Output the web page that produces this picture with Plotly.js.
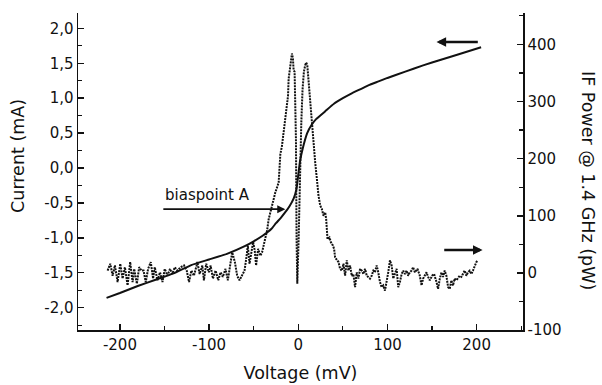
<!DOCTYPE html>
<html>
<head>
<meta charset="utf-8">
<script src="https://cdn.plot.ly/plotly-3.0.1.min.js"></script>
<style>html,body{margin:0;padding:0;background:#fff;}#chart{width:602px;height:385px;}</style>
</head>
<body>
<div id="chart"></div>
<script>
// I-V curve (left axis, mA)
var ivVoltage = [-215,-200,-180,-160,-140,-120,-100,-80,-60,-50,-40,-30,-25,-20,-15,-10,-5,-2,0,2,5,10,15,20,30,40,50,60,70,80,90,100,120,140,160,180,205];
var ivCurrent = [-1.86,-1.79,-1.69,-1.60,-1.51,-1.39,-1.31,-1.23,-1.12,-1.05,-0.97,-0.87,-0.79,-0.72,-0.64,-0.55,-0.43,-0.30,-0.10,0.10,0.28,0.50,0.62,0.70,0.81,0.92,1.00,1.07,1.13,1.19,1.24,1.29,1.38,1.47,1.55,1.63,1.73];

// IF power curve (right axis, pW)
var ifVoltage = [-213.8,-210.8,-208.2,-205.6,-202.6,-199.6,-197,-194.4,-191.4,-188.5,-185.8,-184,-181,-178.4,-175.8,-173.5,-171,-168.4,-165.4,-162.8,-160.9,-157.9,-155,-152.3,-149.7,-146.7,-143.8,-141.2,-138.5,-135.5,-131.8,-128.1,-125.1,-122.5,-119.9,-117,-114,
-113.2,-110.6,-107.6,-105.8,-103.2,-100.2,-98.3,-95.7,-92.7,-89.7,-87.2,-84.6,-81.6,-79,-76.8,-74.1,-71.1,-68.5,-65.9,-62.9,-60.3,-58.4,-56.6,-54.7,-52.5,-50.6,-48.8,-47.3,-45,-42.5,-40.6,-38.8,-36.9,-35,-33.2,-29.5,
-25.7,-22,-20.1,-18.3,-15.3,-13.8,-11.5,-10.8,-9.7,-7.8,-7.1,-6,-5.2,-4.1,-2.6,-1.9,-1.1,0.4,1.9,3.4,4.8,6.3,7.8,8.9,10.1,11.5,13.4,15.3,17.1,19,20.9,22.7,24.6,
26.4,28.3,30.2,31.3,32.1,32.8,35,36.5,38.8,40.2,41.3,43.2,45.1,46.9,48.8,50.7,52.5,54.4,56.2,58.1,60,61.8,63.7,65.5,67.4,69.3,71.2,73,74.9,76.8,78.6,80.4,82.3,84.2,86,87.9,89.7,91.6,93.5,95.3,97.2,99.1,100.9,102.8,104.7,106.5,108.4,110.3,112.1,114,115.9,117.7,119.6,121.5,123.2,125.1,
127,128.8,130.7,133.7,136.3,138.2,140,141.9,143.8,145.6,147.5,150.1,152.3,155,156.8,158.7,160.6,162.3,164.2,166.1,168,169.8,171.7,173.5,175.4,177.3,179.1,181,182.9,184.7,186.6,188.5,190.3,192.2,194.1,195.9,197.8,199.7,201.5];
var ifPower = [4,16,-5,13,-16,16,-10,10,-22,19,-16,7,-19,10,4,4,-16,7,19,-10,10,-13,1,-16,7,-5,7,-2,10,4,10,13,4,-16,4,-5,13,
19,-2,13,-13,16,1,13,-10,4,-13,1,-7,7,-13,13,36,19,-5,-13,-5,4,24,48,16,36,54,39,13,42,30,36,48,59,74,94,118,
141,158,208,222,257,275,310,340,352,369,384,375,355,352,234,59,-19,59,176,263,321,352,364,368,364,335,305,257,234,193,164,135,118,
112,100,106,94,71,59,62,54,48,42,27,22,19,7,4,16,-5,22,4,13,-5,-2,-25,1,-10,7,4,-2,7,-5,-7,-10,-5,4,1,13,1,-16,-25,-22,-31,-16,1,22,13,-10,1,7,-25,-16,-2,4,-2,4,-5,1,
4,10,1,7,-5,-22,-10,-5,1,-7,-13,-5,-2,-16,-28,-10,1,-7,4,-5,-25,-28,-13,-22,-10,-13,-10,-5,-7,-2,4,-5,1,4,-2,4,13,19,22];

// Tick labels (hyphen minus, decimal comma as printed)
var xTickVals = [-200,-100,0,100,200];
var xTickText = ['-200','-100','0','100','200'];
var yTickVals = [-2,-1.5,-1,-0.5,0,0.5,1,1.5,2];
var yTickText = ['-2,0','-1,5','-1,0','-0,5','0,0','0,5','1,0','1,5','2,0'];
var y2TickVals = [-100,0,100,200,300,400];
var y2TickText = ['-100','0','100','200','300','400'];

var xTitle = 'Voltage (mV)';
var yTitle = 'Current (mA)';
var y2Title = 'IF Power @ 1.4 GHz (pW)';
var labelText = 'biaspoint A';

var FONT = 'DejaVu Sans, Liberation Sans, Arial, sans-serif';
var INK = '#111';

var traces = [
  {x: ivVoltage, y: ivCurrent, type: 'scatter', mode: 'lines',
   line: {color: INK, width: 2, shape: 'spline', smoothing: 0.4}, yaxis: 'y', hoverinfo: 'skip'},
  {x: ifVoltage, y: ifPower, type: 'scatter', mode: 'lines',
   line: {color: INK, width: 2, dash: '2px,1px'}, yaxis: 'y2', hoverinfo: 'skip'}
];

var axisCommon = {
  showline: true, linecolor: INK, linewidth: 1.5, mirror: false,
  ticks: 'inside', ticklen: 6, tickwidth: 1.5, tickcolor: INK,
  showgrid: false, zeroline: false, tickmode: 'array',
  tickfont: {family: FONT, size: 15, color: INK}
};

var layout = {
  width: 602, height: 385,
  margin: {l: 78, r: 79, t: 13, b: 55},
  paper_bgcolor: '#fff', plot_bgcolor: '#fff',
  showlegend: false,
  font: {family: FONT, color: INK},
  xaxis: Object.assign({}, axisCommon, {
    range: [-247, 252], tickvals: xTickVals, ticktext: xTickText,
    minor: {tickmode: 'linear', tick0: 0, dtick: 50, ticks: 'inside', ticklen: 4, tickwidth: 1.2, tickcolor: INK, showgrid: false},
    title: {text: xTitle, font: {family: FONT, size: 17.5, color: INK}, standoff: 14}
  }),
  yaxis: Object.assign({}, axisCommon, {
    range: [-2.32, 2.22], tickvals: yTickVals, ticktext: yTickText,
    minor: {tickmode: 'linear', tick0: 0, dtick: 0.25, ticks: 'inside', ticklen: 4, tickwidth: 1.2, tickcolor: INK, showgrid: false}
  }),
  yaxis2: Object.assign({}, axisCommon, {
    overlaying: 'y', side: 'right', anchor: 'x',
    range: [-100, 455], tickvals: y2TickVals, ticktext: y2TickText,
    minor: {tickmode: 'linear', tick0: 0, dtick: 50, ticks: 'inside', ticklen: 4, tickwidth: 1.2, tickcolor: INK, showgrid: false}
  }),
  annotations: [
    {xref: 'paper', yref: 'paper', x: -0.135, y: 0.549, text: yTitle, textangle: -90,
     showarrow: false, xanchor: 'center', yanchor: 'middle', font: {family: FONT, size: 17.5, color: INK}},
    {xref: 'paper', yref: 'paper', x: 1.146, y: 0.47, text: y2Title, textangle: 90,
     showarrow: false, xanchor: 'center', yanchor: 'middle', font: {family: FONT, size: 17.5, color: INK}},
    {xref: 'x', yref: 'y', x: -101.7, y: -0.39, text: labelText, showarrow: false,
     xanchor: 'center', yanchor: 'middle', font: {family: FONT, size: 15, color: INK}},
    {xref: 'x', yref: 'y', x: -14.5, y: -0.59, ax: -153, ay: -0.59, axref: 'x', ayref: 'y',
     text: '', showarrow: true, arrowhead: 2, arrowsize: 0.9, arrowwidth: 1.8, arrowcolor: INK},
    {xref: 'x', yref: 'y', x: 155, y: 1.805, ax: 203, ay: 1.805, axref: 'x', ayref: 'y',
     text: '', showarrow: true, arrowhead: 2, arrowsize: 0.8, arrowwidth: 2.4, arrowcolor: INK},
    {xref: 'x', yref: 'y2', x: 206.7, y: 40, ax: 162, ay: 40, axref: 'x', ayref: 'y2',
     text: '', showarrow: true, arrowhead: 2, arrowsize: 0.8, arrowwidth: 2.4, arrowcolor: INK}
  ]
};

Plotly.newPlot('chart', traces, layout, {staticPlot: true, displayModeBar: false});
</script>
</body>
</html>
